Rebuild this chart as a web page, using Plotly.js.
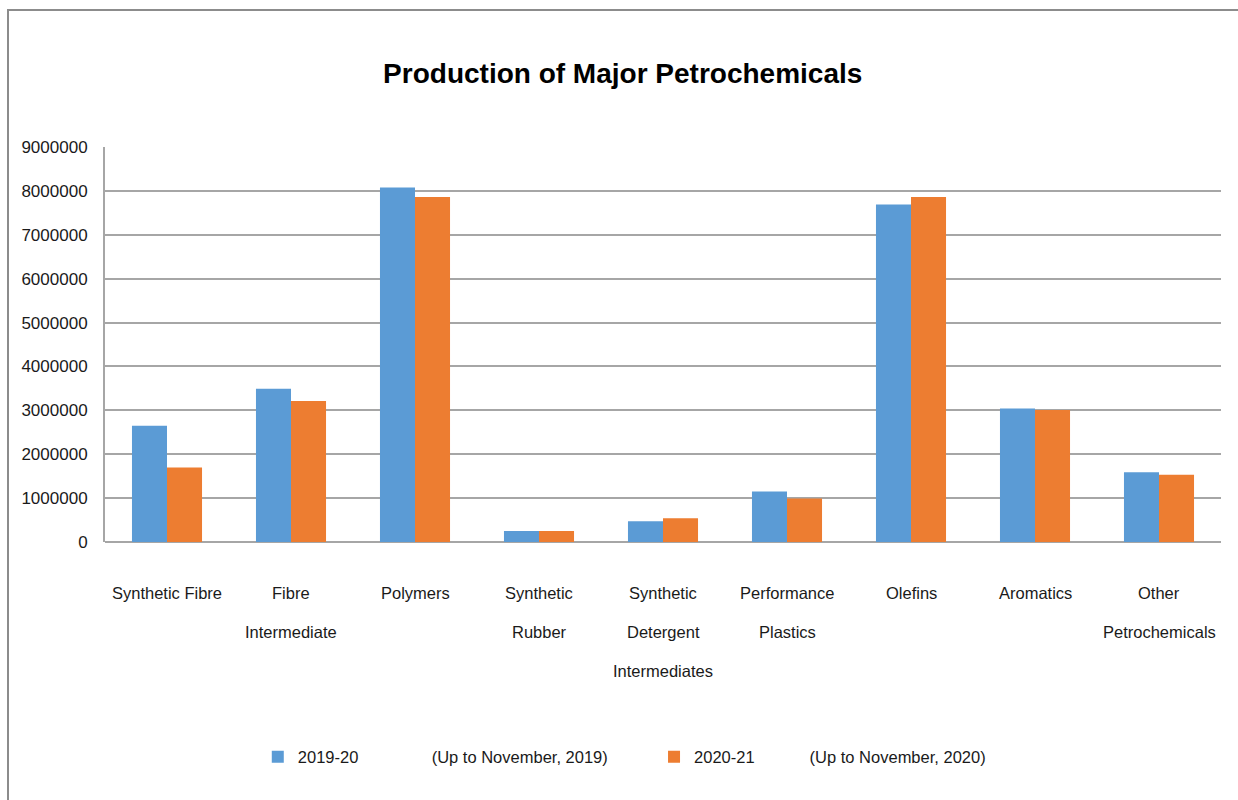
<!DOCTYPE html>
<html><head><meta charset="utf-8">
<script src="https://cdn.plot.ly/plotly-3.0.1.min.js"></script>
<style>
html,body{margin:0;padding:0;background:#fff;}
#wrap{position:relative;width:1238px;height:800px;overflow:hidden;}
#chart{position:absolute;left:0;top:0;width:1238px;height:800px;}
#frame{position:absolute;left:7px;top:9px;width:1260px;height:820px;border:2px solid #8c8c8c;pointer-events:none;box-sizing:border-box;}
</style></head>
<body>
<div id="wrap"><div id="chart"></div><div id="frame"></div></div>
<script>
const categories = ["Synthetic Fibre","Fibre<br>Intermediate","Polymers","Synthetic<br>Rubber","Synthetic<br>Detergent<br>Intermediates","Performance<br>Plastics","Olefins","Aromatics","Other<br>Petrochemicals"];
const series2019 = [2650000,3490000,8080000,250000,470000,1150000,7690000,3040000,1590000];
const series2020 = [1700000,3210000,7860000,250000,540000,990000,7860000,3010000,1530000];
const name2019 = "2019-20";
const note2019 = "(Up to November, 2019)";
const name2020 = "2020-21";
const note2020 = "(Up to November, 2020)";
const titleText = "Production of Major Petrochemicals";

const FONT = "'Liberation Sans',Arial,sans-serif";
const sp = n => "\u00A0".repeat(n);
const nb = s => s.replace(/ /g, "\u00A0");

const traces = [
  {type:"bar", x:categories, y:series2019, name:nb(name2019)+sp(16)+nb(note2019)+sp(9), marker:{color:"#5B9BD5"}},
  {type:"bar", x:categories, y:series2020, name:nb(name2020)+sp(12)+nb(note2020), marker:{color:"#ED7D31"}}
];

const annotations = [];
categories.forEach(c => {
  c.split("<br>").forEach((line, i) => {
    annotations.push({x:c, xref:"x", y:0, yref:"paper", yanchor:"middle", yshift:-51 - 39*i,
      text:line, showarrow:false, font:{family:FONT, size:16.5, color:"#1a1a1a"}});
  });
});

const layout = {
  width:1238, height:800,
  margin:{l:105, r:17, t:147, b:258},
  paper_bgcolor:"#fff", plot_bgcolor:"#fff",
  title:{text:"<b>"+titleText+"</b>", font:{family:FONT, size:28, color:"#000"}, x:0.503, xanchor:"center", y:1-73/800, yanchor:"middle", yref:"container"},
  barmode:"group", bargap:0.435, bargroupgap:0,
  xaxis:{type:"category", showticklabels:false, showgrid:false, showline:false, zeroline:false, ticks:""},
  yaxis:{range:[0,9000000], dtick:1000000, tickformat:"d", showgrid:true, gridcolor:"#a6a6a6", gridwidth:2,
    showline:true, linecolor:"#a6a6a6", linewidth:2, zeroline:true, zerolinecolor:"#a6a6a6", zerolinewidth:2,
    ticks:"", ticklabelstandoff:12, tickfont:{family:FONT, size:17, color:"#1a1a1a"}},
  legend:{orientation:"h", x:0.1369, xanchor:"left", xref:"paper", y:1-757/800, yref:"container", yanchor:"middle",
    font:{family:FONT, size:16.5, color:"#1a1a1a"}, traceorder:"normal", itemwidth:30},
  annotations:annotations,
  showlegend:true
};
Plotly.newPlot("chart", traces, layout, {displayModeBar:false, staticPlot:true});
</script>
</body></html>
